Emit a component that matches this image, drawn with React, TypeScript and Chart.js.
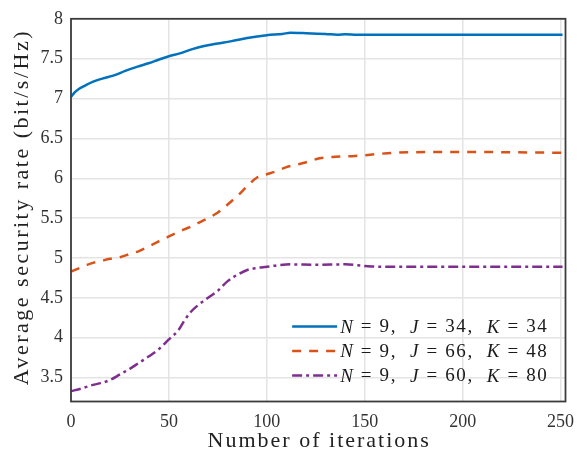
import React, { useEffect, useRef } from "react";
import { Chart, registerables } from "chart.js";

Chart.register(...registerables);

// ---- data ----
const blueIter = [0, 2, 4, 7, 11, 16, 22, 28, 34, 40, 45, 50, 56, 62, 68, 75, 82, 90, 100, 108, 112, 120, 130, 136, 140, 146, 160, 200, 251];
const blueRate = [7.02, 7.08, 7.12, 7.16, 7.21, 7.25, 7.29, 7.35, 7.4, 7.445, 7.49, 7.53, 7.57, 7.62, 7.66, 7.69, 7.72, 7.76, 7.795, 7.81, 7.825, 7.82, 7.81, 7.8, 7.807, 7.8, 7.8, 7.8, 7.8];

const orangeIter = [0, 5, 10, 15, 20, 25, 30, 35, 40, 45, 50, 55, 60, 65, 70, 75, 80, 85, 90, 95, 100, 105, 110, 115, 120, 127, 135, 145, 155, 165, 200, 251];
const orangeRate = [4.83, 4.88, 4.93, 4.96, 4.99, 5.01, 5.05, 5.09, 5.15, 5.21, 5.27, 5.33, 5.38, 5.44, 5.5, 5.57, 5.67, 5.78, 5.9, 6.01, 6.05, 6.09, 6.14, 6.17, 6.2, 6.25, 6.27, 6.28, 6.3, 6.32, 6.33, 6.32];

const purpleIter = [0, 5, 10, 15, 20, 25, 30, 35, 40, 45, 50, 55, 58, 61, 65, 70, 75, 80, 85, 90, 95, 100, 106, 112, 125, 140, 150, 158, 200, 251];
const purpleRate = [3.33, 3.36, 3.4, 3.43, 3.47, 3.54, 3.61, 3.69, 3.77, 3.86, 3.98, 4.1, 4.22, 4.32, 4.41, 4.5, 4.59, 4.71, 4.79, 4.85, 4.875, 4.89, 4.91, 4.92, 4.915, 4.92, 4.9, 4.89, 4.89, 4.89];

const seriesN = [9, 9, 9];
const seriesJ = [34, 66, 60];
const seriesK = [34, 48, 80];

const xTicks = [0, 50, 100, 150, 200, 250];
const yTicks = [3.5, 4, 4.5, 5, 5.5, 6, 6.5, 7, 7.5, 8];

const xTitle = "Number of iterations";
const yTitle = "Average security rate (bit/s/Hz)";

const colors = ["#0072BD", "#D95319", "#7E2F8E"];
const dashes: number[][] = [[], [9, 8], [10, 4, 3, 4]];

const SERIF = "'Liberation Serif', 'DejaVu Serif', serif";

const toPts = (xs: number[], ys: number[]) => xs.map((x, i) => ({ x, y: ys[i] }));

const legendSegments = (i: number) => [
  { t: "N", it: true },
  { t: ` = ${seriesN[i]},  `, it: false },
  { t: "J", it: true },
  { t: ` = ${seriesJ[i]},  `, it: false },
  { t: "K", it: true },
  { t: ` = ${seriesK[i]}`, it: false },
];

const framePlugin = {
  id: "frameAndLegend",
  afterDraw(chart: any) {
    const { ctx, chartArea } = chart;
    const { left, right, top, bottom } = chartArea;
    ctx.save();
    // frame
    ctx.strokeStyle = "#3c3c3c";
    ctx.lineWidth = 1.8;
    ctx.setLineDash([]);
    ctx.strokeRect(left, top, right - left, bottom - top);

    // axis titles
    ctx.fillStyle = "#222";
    ctx.font = `22px ${SERIF}`;
    (ctx as any).letterSpacing = "2px";
    ctx.textAlign = "center";
    ctx.textBaseline = "middle";
    ctx.fillText(xTitle, (left + right) / 2 + 1, 441);
    (ctx as any).letterSpacing = "2.5px";
    ctx.save();
    ctx.translate(22, (top + bottom) / 2 - 3);
    ctx.rotate(-Math.PI / 2);
    ctx.fillText(yTitle, 0, 0);
    ctx.restore();

    // legend
    const fontSize = 19;
    (ctx as any).letterSpacing = "1.65px";
    const n = chart.data.datasets.length;
    for (let i = 0; i < n; i++) {
      const segs = legendSegments(i);
      let w = 0;
      const widths = segs.map((s) => {
        ctx.font = `${s.it ? "italic " : ""}${fontSize}px ${SERIF}`;
        const m = ctx.measureText(s.t).width;
        w += m;
        return m;
      });
      const y = bottom - 26 - (n - 1 - i) * 24.5;
      const textX = right - 17 - w;
      // sample line
      ctx.strokeStyle = colors[i];
      ctx.lineWidth = 2.5;
      ctx.setLineDash(dashes[i]);
      ctx.beginPath();
      ctx.moveTo(textX - 48, y);
      ctx.lineTo(textX - 3, y);
      ctx.stroke();
      ctx.setLineDash([]);
      // text
      ctx.fillStyle = "#1a1a1a";
      ctx.textBaseline = "middle";
      ctx.textAlign = "left";
      let x = textX;
      segs.forEach((s, k) => {
        ctx.font = `${s.it ? "italic " : ""}${fontSize}px ${SERIF}`;
        ctx.fillText(s.t, x, y + 1);
        x += widths[k];
      });
    }
    (ctx as any).letterSpacing = "0px";
    ctx.restore();
  },
};

export default function App() {
  const ref = useRef<HTMLCanvasElement | null>(null);

  useEffect(() => {
    if (!ref.current) return;
    const datasets = [
      toPts(blueIter, blueRate),
      toPts(orangeIter, orangeRate),
      toPts(purpleIter, purpleRate),
    ].map((data, i) => ({
      label: `N = ${seriesN[i]}, J = ${seriesJ[i]}, K = ${seriesK[i]}`,
      data,
      borderColor: colors[i],
      backgroundColor: colors[i],
      borderWidth: 2.5,
      borderDash: dashes[i],
      pointRadius: 0,
      cubicInterpolationMode: "monotone" as const,
      fill: false,
    }));

    const chart = new Chart(ref.current, {
      type: "line",
      data: { datasets },
      plugins: [framePlugin],
      options: {
        animation: false,
        responsive: true,
        maintainAspectRatio: false,
        layout: { padding: { top: 17, right: 11.5, left: 0, bottom: 0 } },
        plugins: {
          legend: { display: false },
          tooltip: { enabled: false },
        },
        scales: {
          x: {
            type: "linear",
            min: 0,
            max: 252.5,
            afterBuildTicks: (scale: any) => {
              scale.ticks = xTicks.map((v) => ({ value: v }));
            },
            afterFit: (scale: any) => {
              scale.height = 50.5;
              scale.paddingLeft = 0;
              scale.paddingRight = 0;
            },
            grid: { color: "#e4e4e4", lineWidth: 1.5, drawTicks: false },
            border: { display: false },
            ticks: {
              color: "#333",
              font: { family: SERIF, size: 18 },
              padding: 10,
              maxRotation: 0,
              autoSkip: false,
            },
            title: { display: false },
          },
          y: {
            type: "linear",
            min: 3.2,
            max: 8,
            afterBuildTicks: (scale: any) => {
              scale.ticks = yTicks.map((v) => ({ value: v }));
            },
            afterFit: (scale: any) => {
              scale.width = 71;
            },
            grid: { color: "#e4e4e4", lineWidth: 1.5, drawTicks: false },
            border: { display: false },
            ticks: {
              color: "#333",
              font: { family: SERIF, size: 18 },
              padding: 8,
              autoSkip: false,
              callback: (v: any) => String(v),
            },
            title: { display: false },
          },
        },
      },
    });
    return () => chart.destroy();
  }, []);

  return (
    <div style={{ position: "fixed", left: 0, top: 0, width: 577, height: 452, background: "#fff" }}>
      <canvas ref={ref} />
    </div>
  );
}
